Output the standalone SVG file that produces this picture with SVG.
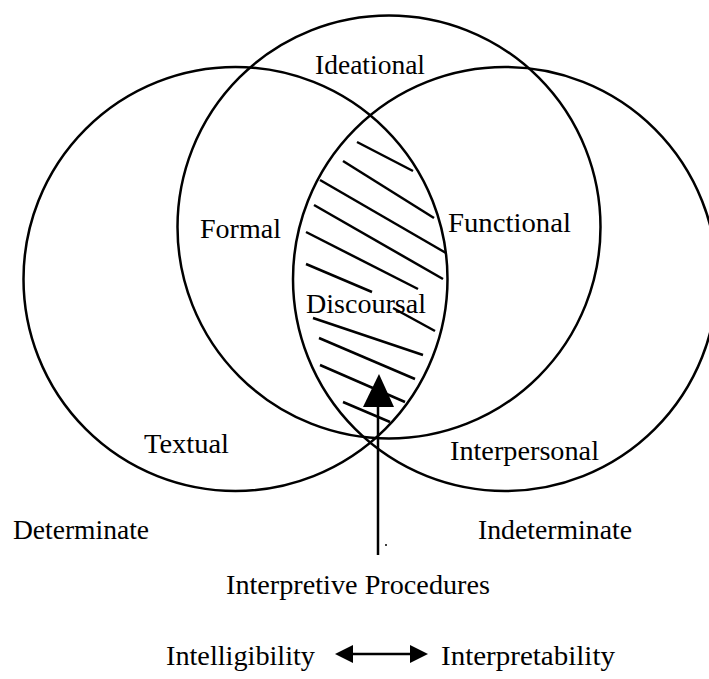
<svg xmlns="http://www.w3.org/2000/svg" width="709" height="679" viewBox="0 0 709 679">
<style>
.c{fill:none;stroke:#000;stroke-width:2.5}
.h{stroke:#000;stroke-width:2.5;stroke-linecap:butt}
.t{font-family:"Liberation Serif","Times New Roman",serif;font-size:27px;fill:#000}
</style>
<rect width="709" height="679" fill="#fff"/>
<g id="hatching">
<line class="h" x1="357" y1="142" x2="413" y2="171"/>
<line class="h" x1="343" y1="161" x2="434" y2="218"/>
<line class="h" x1="320" y1="180" x2="446" y2="253"/>
<line class="h" x1="314" y1="205" x2="443" y2="279"/>
<line class="h" x1="306" y1="232" x2="418" y2="289"/>
<line class="h" x1="306" y1="264" x2="372" y2="292"/>
<line class="h" x1="393" y1="308" x2="435" y2="331"/>
<line class="h" x1="313" y1="318" x2="423" y2="355"/>
<line class="h" x1="319" y1="338" x2="415" y2="379"/>
<line class="h" x1="320" y1="365" x2="405" y2="402"/>
<line class="h" x1="343" y1="402" x2="390" y2="422"/>
</g>
<g id="circle-textual"><circle class="c" cx="235.5" cy="279" r="212"/></g>
<g id="circle-ideational"><circle class="c" cx="389" cy="227" r="211.5"/></g>
<g id="circle-interpersonal"><circle class="c" cx="505" cy="279" r="212"/></g>
<g id="labels">
<text class="t" x="315" y="74" textLength="110" lengthAdjust="spacingAndGlyphs">Ideational</text>
<text class="t" x="200" y="238" textLength="81" lengthAdjust="spacingAndGlyphs">Formal</text>
<text class="t" x="448" y="232" textLength="123" lengthAdjust="spacingAndGlyphs">Functional</text>
<text class="t" x="306" y="313" textLength="120" lengthAdjust="spacingAndGlyphs">Discoursal</text>
<text class="t" x="144" y="453" textLength="85" lengthAdjust="spacingAndGlyphs">Textual</text>
<text class="t" x="450" y="460" textLength="149" lengthAdjust="spacingAndGlyphs">Interpersonal</text>
<text class="t" x="13" y="539" textLength="136" lengthAdjust="spacingAndGlyphs">Determinate</text>
<text class="t" x="478" y="539" textLength="154" lengthAdjust="spacingAndGlyphs">Indeterminate</text>
<text class="t" x="226" y="594" textLength="264" lengthAdjust="spacingAndGlyphs">Interpretive Procedures</text>
<text class="t" x="166" y="665" textLength="149" lengthAdjust="spacingAndGlyphs">Intelligibility</text>
<text class="t" x="441" y="665" textLength="174" lengthAdjust="spacingAndGlyphs">Interpretability</text>
</g>
<g id="connectors">
<line x1="378" y1="404" x2="378" y2="555" stroke="#000" stroke-width="2.5"/>
<polygon points="379,374 363,407 394,407" fill="#000"/>
<circle cx="386" cy="545" r="1" fill="#000"/>
<line x1="350" y1="654" x2="412" y2="654" stroke="#000" stroke-width="2.5"/>
<polygon points="335,654 353,645 353,663" fill="#000"/>
<polygon points="428,654 410,645 410,663" fill="#000"/>
</g>
</svg>
